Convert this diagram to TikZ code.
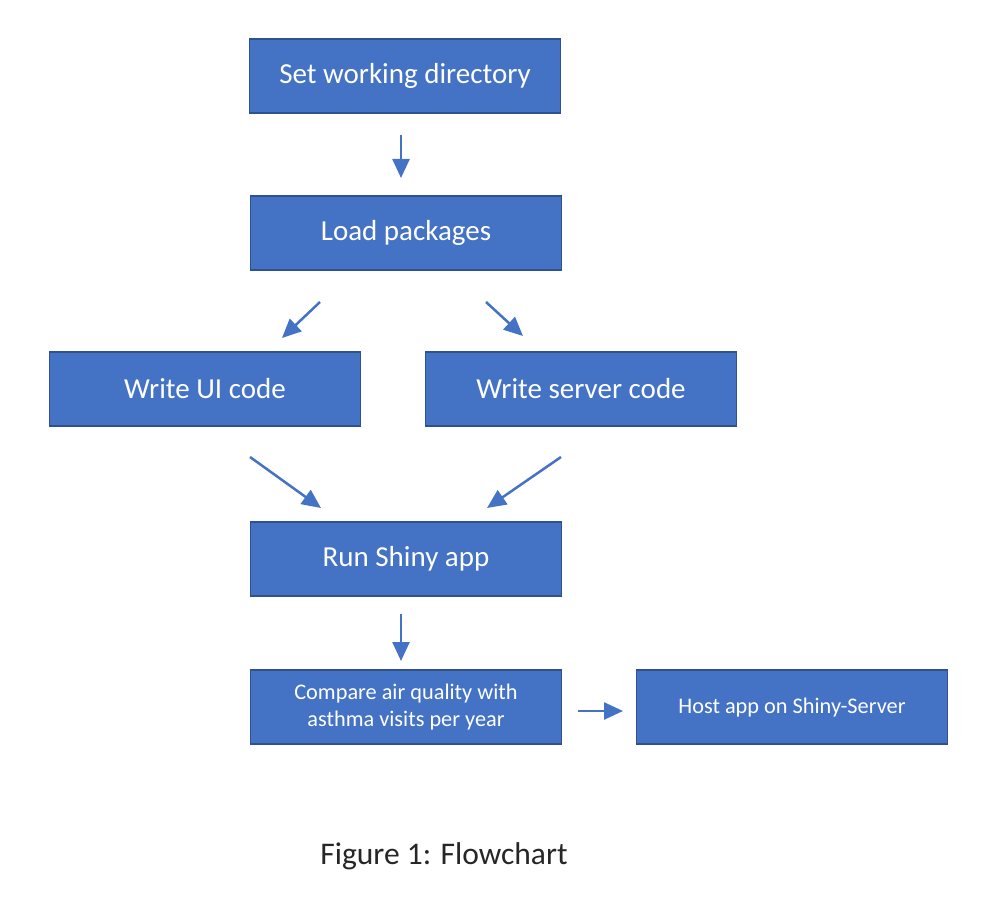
\documentclass[tikz,border=0pt]{standalone}
\usepackage{fontspec}
\setmainfont{Carlito}
\usetikzlibrary{arrows.meta}
\definecolor{boxblue}{HTML}{4472C4}
\definecolor{edgeblue}{HTML}{2F528F}

\begin{document}
\begin{tikzpicture}[x=1pt, y=-1pt,
      stepbox/.style = {shape=rectangle, draw=edgeblue, line width=1.6pt,
        fill=boxblue, text=white, align=center, inner sep=0pt,
        minimum width=311pt, minimum height=74pt, font=\fontsize{29}{34}\selectfont},
      smallbox/.style = {stepbox, font=\fontsize{22.3}{27}\selectfont},
      flow/.style = {draw=boxblue, line width=2.5pt,
        -{Triangle[length=19pt,width=17pt]}}]
  \useasboundingbox (0,0) rectangle (1001,901);
  % steps
  \node[stepbox] (setwd) at (405,76) {Set working directory};
  \node[stepbox] (load) at (406,233) {Load packages};
  \node[stepbox] (ui) at (205,389) {Write UI code};
  \node[stepbox] (server) at (581,389) {Write server code};
  \node[stepbox] (run) at (406,559) {Run Shiny app};
  \node[smallbox, text depth=3pt] (compare) at (406,707) {Compare air quality with\\asthma visits per year};
  \node[smallbox, text depth=3pt] (host) at (792,707) {Host app on Shiny-Server};
  \node[font=\fontsize{31.5}{36}\selectfont, text=black!85] (caption) at (444,856) {Figure 1: Flowchart};
  % arrow ends
  \coordinate (setwd-out) at (401,135);
  \coordinate (load-in) at (401,178);
  \coordinate (load-outl) at (320,302);
  \coordinate (ui-in) at (282,338);
  \coordinate (load-outr) at (486,302);
  \coordinate (server-in) at (523,336);
  \coordinate (ui-out) at (250,457);
  \coordinate (run-inl) at (321,508);
  \coordinate (server-out) at (561,457);
  \coordinate (run-inr) at (487,508);
  \coordinate (run-out) at (401,614);
  \coordinate (compare-in) at (401,661);
  \coordinate (compare-out) at (578,711);
  \coordinate (host-in) at (623,711);
  % arrows
  \draw[flow] (setwd-out) -- (load-in);
  \draw[flow] (load-outl) -- (ui-in);
  \draw[flow] (load-outr) -- (server-in);
  \draw[flow] (ui-out) -- (run-inl);
  \draw[flow] (server-out) -- (run-inr);
  \draw[flow] (run-out) -- (compare-in);
  \draw[flow] (compare-out) -- (host-in);
\end{tikzpicture}
\end{document}
